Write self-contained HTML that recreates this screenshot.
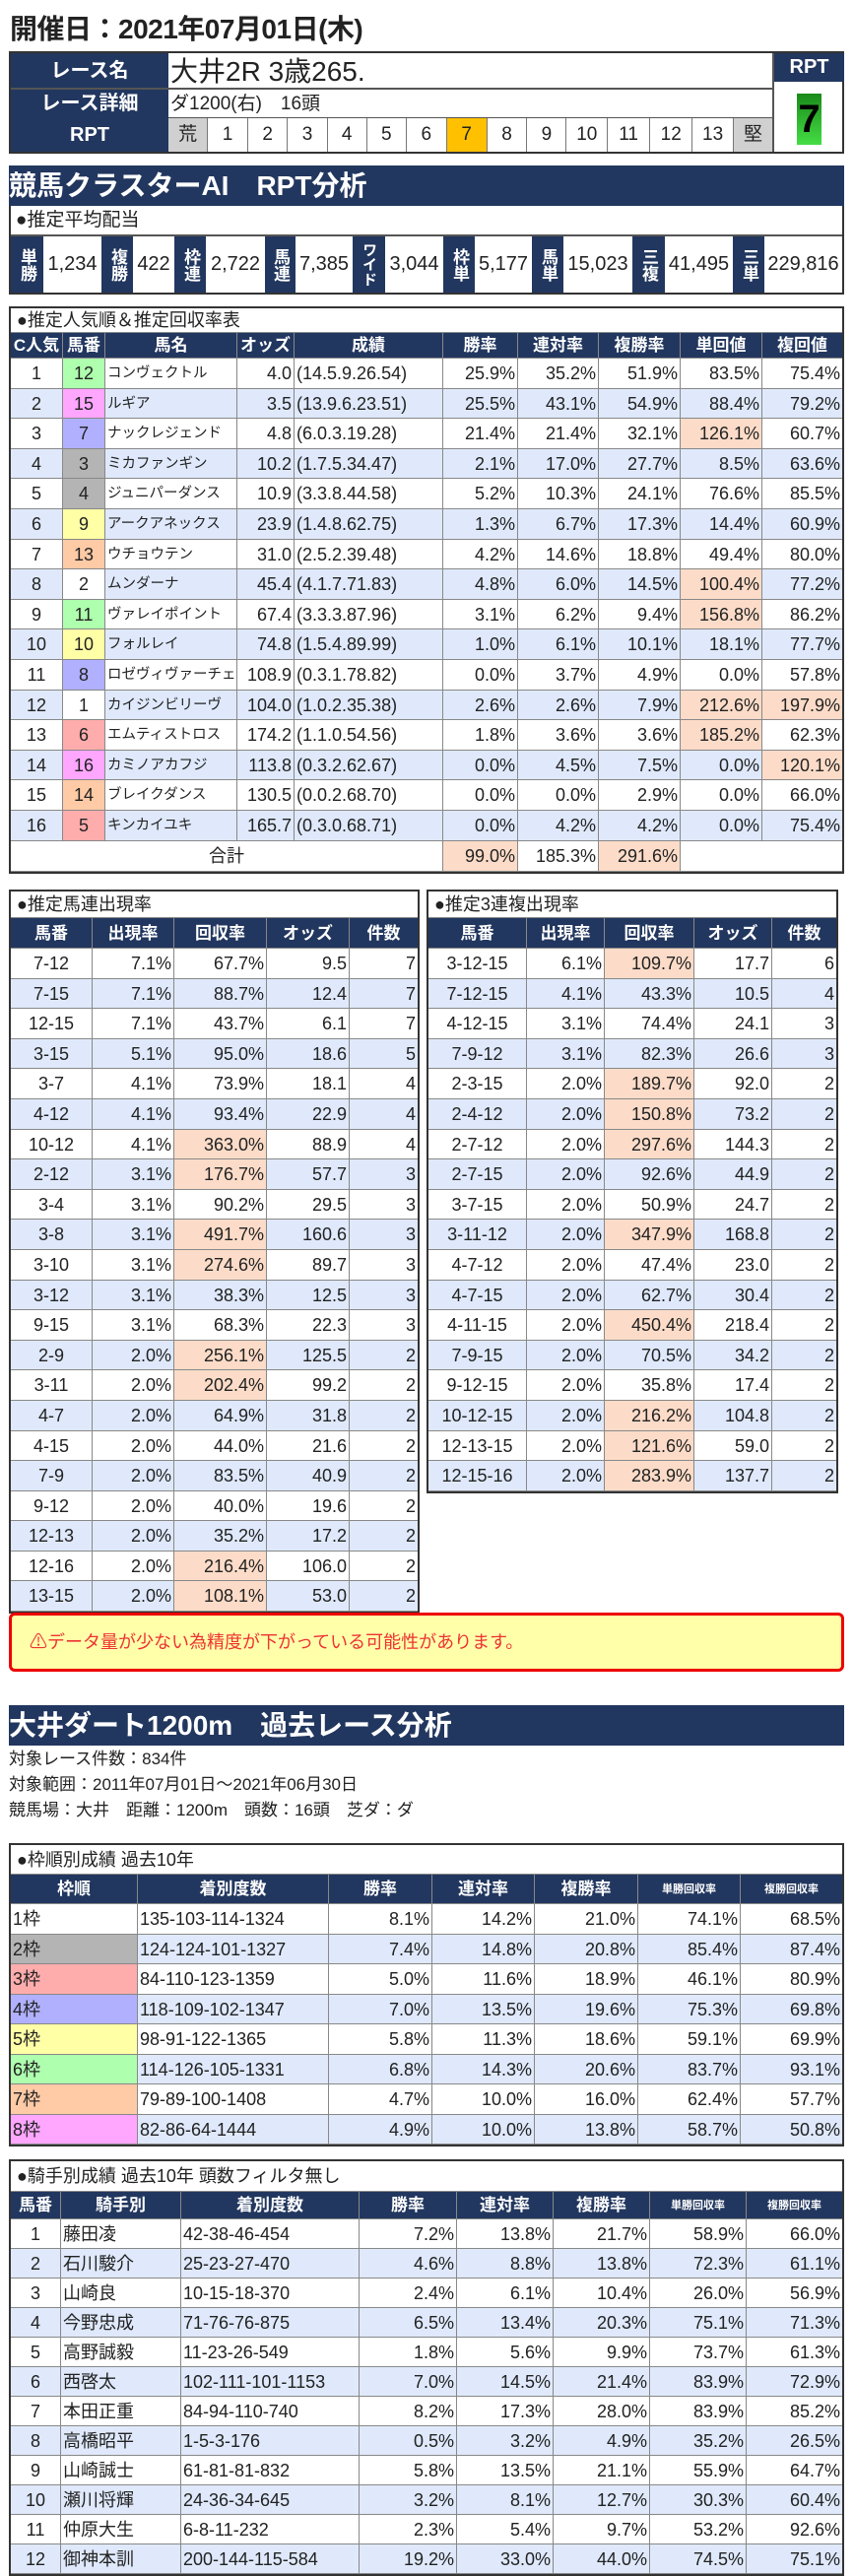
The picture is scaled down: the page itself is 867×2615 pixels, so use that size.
<!DOCTYPE html>
<html><head><meta charset="utf-8">
<style>
body{margin:0;width:867px;height:2606px;overflow:hidden;position:relative;background:#fff;font-family:"Liberation Sans","Noto Sans CJK JP",sans-serif;color:#222}
.a{position:absolute}
.nv{background:#22375f;color:#fff}
.tb{position:absolute;border:2px solid #333;background:#fff}
.r{display:flex}
.r>div{box-sizing:border-box;border-right:1px solid #888;border-bottom:1px solid #888;white-space:nowrap;overflow:hidden;padding:0 2px}
.r>div:last-child{border-right:none}
.h>div{background:#22375f;color:#fff;font-weight:bold;text-align:center}
.ti{border-bottom:1px solid #888;padding-left:6px;box-sizing:border-box;white-space:nowrap}
.b>div{background:#dfe9fb}
.r>div.s{background:#fcdcc8}
.R{text-align:right}.C{text-align:center}.L{text-align:left}
.r>div.f1{background:transparent}.r>div.f2{background:#b4b4b4}.r>div.f3{background:#ffacac}.r>div.f4{background:#b0b0ff}
.r>div.f5{background:#ffffa6}.r>div.f6{background:#aeffae}.r>div.f7{background:#ffcaa6}.r>div.f8{background:#ffa6ff}
.nm{font-size:14.5px}
</style></head><body>

<div class="a" style="left:10px;top:8px;font-size:28px;font-weight:bold;letter-spacing:-0.5px">開催日：2021年07月01日(木)</div>

<!-- header table -->
<div class="a" style="left:9px;top:52px;width:848px;height:104px;border:2px solid #333;box-sizing:border-box;background:#fff">
 <div class="a nv" style="left:0;top:0;width:160px;height:37px;line-height:37px;text-align:center;font-weight:bold;font-size:20px;border-bottom:2px solid #555;box-sizing:border-box">レース名</div>
 <div class="a nv" style="left:0;top:37px;width:160px;height:29px;line-height:29px;text-align:center;font-weight:bold;font-size:20px">レース詳細</div>
 <div class="a nv" style="left:0;top:66px;width:160px;height:34px;line-height:34px;text-align:center;font-weight:bold;font-size:20px">RPT</div>
 <div class="a" style="left:160px;top:0;width:613px;height:37px;line-height:37px;font-size:28px;border-bottom:2px solid #555;box-sizing:border-box;padding-left:2px">大井2R 3歳265.</div>
 <div class="a" style="left:160px;top:37px;width:613px;height:29px;line-height:29px;font-size:19px;border-bottom:1px solid #555;box-sizing:border-box;padding-left:2px">ダ1200(右)　16頭</div>
 <div class="a" style="left:160px;top:66px;width:613px;height:34px;display:flex;font-size:19px;line-height:34px;text-align:center">
  <div style="width:40px;background:#d0d0d0;border-right:1px solid #777">荒</div><div style="width:40.5px;border-right:1px solid #777">1</div><div style="width:40.5px;border-right:1px solid #777">2</div><div style="width:40px;border-right:1px solid #777">3</div><div style="width:40px;border-right:1px solid #777">4</div><div style="width:40px;border-right:1px solid #777">5</div><div style="width:40.5px;border-right:1px solid #777">6</div><div style="width:41px;border-right:1px solid #777;background:#ffc000">7</div><div style="width:40.5px;border-right:1px solid #777">8</div><div style="width:40px;border-right:1px solid #777">9</div><div style="width:41.5px;border-right:1px solid #777">10</div><div style="width:43px;border-right:1px solid #777">11</div><div style="width:43px;border-right:1px solid #777">12</div><div style="width:41.5px;border-right:1px solid #777">13</div><div style="width:40px;background:#d0d0d0">堅</div>
 </div>
 <div class="a nv" style="left:773px;top:0;width:71px;height:29px;line-height:29px;text-align:center;font-weight:bold;font-size:20px;border-left:2px solid #555">RPT</div>
 <div class="a" style="left:773px;top:29px;width:71px;height:71px;border-left:2px solid #555"></div>
 <div class="a" style="left:798px;top:41px;width:25px;height:52px;background:linear-gradient(#1a8a1a,#44dd44);font-size:40px;font-weight:bold;line-height:52px;text-align:center;color:#000">7</div>
</div>

<div class="a nv" style="left:9px;top:168px;width:848px;height:41px;line-height:41px;font-size:28px;font-weight:bold;white-space:pre">競馬クラスターAI　RPT分析</div>

<div class="a" style="left:9px;top:209px;width:848px;height:90px;border:2px solid #333;border-top:none;box-sizing:border-box">
 <div style="height:29px;line-height:29px;font-size:19px;padding-left:5px;border-bottom:2px solid #555">●推定平均配当</div>
 <div style="display:flex;height:57px;font-size:20px;line-height:57px">
  <div class="nv" style="width:33px;writing-mode:vertical-rl;font-weight:bold;font-size:17px;line-height:33px;text-align:center">単勝</div><div style="width:59px;text-align:center">1,234</div>
  <div class="nv" style="width:32px;writing-mode:vertical-rl;font-weight:bold;font-size:17px;line-height:32px;text-align:center">複勝</div><div style="width:42px;text-align:center">422</div>
  <div class="nv" style="width:32px;writing-mode:vertical-rl;font-weight:bold;font-size:17px;line-height:32px;text-align:center">枠連</div><div style="width:60px;text-align:center">2,722</div>
  <div class="nv" style="width:31px;writing-mode:vertical-rl;font-weight:bold;font-size:17px;line-height:31px;text-align:center">馬連</div><div style="width:58px;text-align:center">7,385</div>
  <div class="nv" style="width:33px;writing-mode:vertical-rl;font-weight:bold;font-size:15px;line-height:33px;text-align:center">ワイド</div><div style="width:59px;text-align:center">3,044</div>
  <div class="nv" style="width:32px;writing-mode:vertical-rl;font-weight:bold;font-size:17px;line-height:32px;text-align:center">枠単</div><div style="width:58px;text-align:center">5,177</div>
  <div class="nv" style="width:32px;writing-mode:vertical-rl;font-weight:bold;font-size:17px;line-height:32px;text-align:center">馬単</div><div style="width:70px;text-align:center">15,023</div>
  <div class="nv" style="width:33px;writing-mode:vertical-rl;font-weight:bold;font-size:17px;line-height:33px;text-align:center">三複</div><div style="width:69px;text-align:center">41,495</div>
  <div class="nv" style="width:32px;writing-mode:vertical-rl;font-weight:bold;font-size:17px;line-height:32px;text-align:center">三単</div><div style="width:79px;text-align:center">229,816</div>
 </div>
</div>

<!-- popularity table -->
<div class="tb" style="left:9px;top:311px;width:844px;font-size:18px">
 <div class="ti" style="height:25px;line-height:25px;font-size:18px">●推定人気順＆推定回収率表</div>
 <div class="r h" style="height:26px;line-height:26px;font-size:17px"><div style="width:53px">C人気</div><div style="width:43px">馬番</div><div style="width:134px">馬名</div><div style="width:58px">オッズ</div><div style="width:151px">成績</div><div style="width:76px">勝率</div><div style="width:82px">連対率</div><div style="width:83px">複勝率</div><div style="width:83px">単回値</div><div style="width:81px">複回値</div></div>
 <div id="pop"></div>
</div>

<!-- umaren -->
<div class="tb" style="left:9px;top:903px;width:413px;font-size:18px">
 <div class="ti" style="height:27px;line-height:27px">●推定馬連出現率</div>
 <div class="r h" style="height:31px;line-height:31px;font-size:17px"><div style="width:83px">馬番</div><div style="width:83px">出現率</div><div style="width:94px">回収率</div><div style="width:84px">オッズ</div><div style="width:69px">件数</div></div>
 <div id="ur"></div>
</div>
<div class="tb" style="left:433px;top:903px;width:414px;font-size:18px">
 <div class="ti" style="height:27px;line-height:27px">●推定3連複出現率</div>
 <div class="r h" style="height:31px;line-height:31px;font-size:17px"><div style="width:100px">馬番</div><div style="width:79px">出現率</div><div style="width:91px">回収率</div><div style="width:79px">オッズ</div><div style="width:65px">件数</div></div>
 <div id="tr"></div>
</div>

<div class="a" style="left:9px;top:1637px;width:848px;height:60px;box-sizing:border-box;border:3px solid #e00;border-radius:6px;background:#ffffaa;color:#e33;font-size:18px;line-height:54px;padding-left:18px">⚠データ量が少ない為精度が下がっている可能性があります。</div>

<div class="a nv" style="left:9px;top:1731px;width:848px;height:41px;line-height:41px;font-size:28px;font-weight:bold;white-space:pre">大井ダート1200m　過去レース分析</div>
<div class="a" style="left:9px;top:1773px;font-size:17px;line-height:26px;white-space:pre">対象レース件数：834件
対象範囲：2011年07月01日～2021年06月30日
競馬場：大井　距離：1200m　頭数：16頭　芝ダ：ダ</div>

<div class="tb" style="left:9px;top:1871px;width:844px;font-size:18px">
 <div class="ti" style="height:30px;line-height:30px">●枠順別成績 過去10年</div>
 <div class="r h" style="height:30px;line-height:30px;font-size:17px"><div style="width:129px">枠順</div><div style="width:194px">着別度数</div><div style="width:105px">勝率</div><div style="width:104px">連対率</div><div style="width:105px">複勝率</div><div style="width:104px;font-size:11px">単勝回収率</div><div style="width:103px;font-size:11px">複勝回収率</div></div>
 <div id="wk"></div>
</div>

<div class="tb" style="left:9px;top:2192px;width:844px;font-size:18px">
 <div class="ti" style="height:31px;line-height:31px">●騎手別成績 過去10年 頭数フィルタ無し</div>
 <div class="r h" style="height:28px;line-height:28px;font-size:17px"><div style="width:51px">馬番</div><div style="width:122px">騎手別</div><div style="width:181px">着別度数</div><div style="width:99px">勝率</div><div style="width:98px">連対率</div><div style="width:98px">複勝率</div><div style="width:98px;font-size:11px">単勝回収率</div><div style="width:97px;font-size:11px">複勝回収率</div></div>
 <div id="jk"></div>
</div>

<script>
function fr(n){return 'f'+Math.ceil(n/2);}
function cell(w,t,cls){var s='',v=t;if(typeof t==='string'&&t.slice(-1)==='*'){s=' s';v=t.slice(0,-1);}return '<div class="'+cls+s+'" style="width:'+w+'px">'+v+'</div>';}
function rows(id,data,ws,al,h,extra){var o='';data.forEach(function(d,i){o+='<div class="r'+(i%2?' b':'')+'" style="height:'+h+'px;line-height:'+h+'px">';d.forEach(function(v,j){var c=al[j];if(extra)c+=extra(d,j);o+=cell(ws[j],v,c);});o+='</div>';});document.getElementById(id).innerHTML=o;}
var pop=[[1,12,'コンヴェクトル','4.0','(14.5.9.26.54)','25.9%','35.2%','51.9%','83.5%','75.4%'],
[2,15,'ルギア','3.5','(13.9.6.23.51)','25.5%','43.1%','54.9%','88.4%','79.2%'],
[3,7,'ナックレジェンド','4.8','(6.0.3.19.28)','21.4%','21.4%','32.1%','126.1%*','60.7%'],
[4,3,'ミカファンギン','10.2','(1.7.5.34.47)','2.1%','17.0%','27.7%','8.5%','63.6%'],
[5,4,'ジュニパーダンス','10.9','(3.3.8.44.58)','5.2%','10.3%','24.1%','76.6%','85.5%'],
[6,9,'アークアネックス','23.9','(1.4.8.62.75)','1.3%','6.7%','17.3%','14.4%','60.9%'],
[7,13,'ウチョウテン','31.0','(2.5.2.39.48)','4.2%','14.6%','18.8%','49.4%','80.0%'],
[8,2,'ムンダーナ','45.4','(4.1.7.71.83)','4.8%','6.0%','14.5%','100.4%*','77.2%'],
[9,11,'ヴァレイポイント','67.4','(3.3.3.87.96)','3.1%','6.2%','9.4%','156.8%*','86.2%'],
[10,10,'フォルレイ','74.8','(1.5.4.89.99)','1.0%','6.1%','10.1%','18.1%','77.7%'],
[11,8,'ロゼヴィヴァーチェ','108.9','(0.3.1.78.82)','0.0%','3.7%','4.9%','0.0%','57.8%'],
[12,1,'カイジンビリーヴ','104.0','(1.0.2.35.38)','2.6%','2.6%','7.9%','212.6%*','197.9%*'],
[13,6,'エムティストロス','174.2','(1.1.0.54.56)','1.8%','3.6%','3.6%','185.2%*','62.3%'],
[14,16,'カミノアカフジ','113.8','(0.3.2.62.67)','0.0%','4.5%','7.5%','0.0%','120.1%*'],
[15,14,'ブレイクダンス','130.5','(0.0.2.68.70)','0.0%','0.0%','2.9%','0.0%','66.0%'],
[16,5,'キンカイユキ','165.7','(0.3.0.68.71)','0.0%','4.2%','4.2%','0.0%','75.4%']];
rows('pop',pop,[53,43,134,58,151,76,82,83,83,81],['C','C','L nm','R','L','R','R','R','R','R'],30.6,function(d,j){return j==1?' '+fr(d[1]):'';});
document.getElementById('pop').innerHTML+='<div class="r" style="height:31px;line-height:31px"><div class="C" style="width:439px">合計</div><div class="R s" style="width:76px">99.0%</div><div class="R" style="width:82px">185.3%</div><div class="R s" style="width:83px">291.6%</div><div style="width:164px"></div></div>';
var ur=[['7-12','7.1%','67.7%','9.5',7],['7-15','7.1%','88.7%','12.4',7],['12-15','7.1%','43.7%','6.1',7],['3-15','5.1%','95.0%','18.6',5],['3-7','4.1%','73.9%','18.1',4],['4-12','4.1%','93.4%','22.9',4],['10-12','4.1%','363.0%*','88.9',4],['2-12','3.1%','176.7%*','57.7',3],['3-4','3.1%','90.2%','29.5',3],['3-8','3.1%','491.7%*','160.6',3],['3-10','3.1%','274.6%*','89.7',3],['3-12','3.1%','38.3%','12.5',3],['9-15','3.1%','68.3%','22.3',3],['2-9','2.0%','256.1%*','125.5',2],['3-11','2.0%','202.4%*','99.2',2],['4-7','2.0%','64.9%','31.8',2],['4-15','2.0%','44.0%','21.6',2],['7-9','2.0%','83.5%','40.9',2],['9-12','2.0%','40.0%','19.6',2],['12-13','2.0%','35.2%','17.2',2],['12-16','2.0%','216.4%*','106.0',2],['13-15','2.0%','108.1%*','53.0',2]];
rows('ur',ur,[83,83,94,84,69],['C','R','R','R','R'],30.6);
var tr=[['3-12-15','6.1%','109.7%*','17.7',6],['7-12-15','4.1%','43.3%','10.5',4],['4-12-15','3.1%','74.4%','24.1',3],['7-9-12','3.1%','82.3%','26.6',3],['2-3-15','2.0%','189.7%*','92.0',2],['2-4-12','2.0%','150.8%*','73.2',2],['2-7-12','2.0%','297.6%*','144.3',2],['2-7-15','2.0%','92.6%','44.9',2],['3-7-15','2.0%','50.9%','24.7',2],['3-11-12','2.0%','347.9%*','168.8',2],['4-7-12','2.0%','47.4%','23.0',2],['4-7-15','2.0%','62.7%','30.4',2],['4-11-15','2.0%','450.4%*','218.4',2],['7-9-15','2.0%','70.5%','34.2',2],['9-12-15','2.0%','35.8%','17.4',2],['10-12-15','2.0%','216.2%*','104.8',2],['12-13-15','2.0%','121.6%*','59.0',2],['12-15-16','2.0%','283.9%*','137.7',2]];
rows('tr',tr,[100,79,91,79,65],['C','R','R','R','R'],30.6);
var wk=[['1枠','135-103-114-1324','8.1%','14.2%','21.0%','74.1%','68.5%'],['2枠','124-124-101-1327','7.4%','14.8%','20.8%','85.4%','87.4%'],['3枠','84-110-123-1359','5.0%','11.6%','18.9%','46.1%','80.9%'],['4枠','118-109-102-1347','7.0%','13.5%','19.6%','75.3%','69.8%'],['5枠','98-91-122-1365','5.8%','11.3%','18.6%','59.1%','69.9%'],['6枠','114-126-105-1331','6.8%','14.3%','20.6%','83.7%','93.1%'],['7枠','79-89-100-1408','4.7%','10.0%','16.0%','62.4%','57.7%'],['8枠','82-86-64-1444','4.9%','10.0%','13.8%','58.7%','50.8%']];
rows('wk',wk,[129,194,105,104,105,104,103],['L','L','R','R','R','R','R'],30.5,function(d,j){return j==0?' f'+d[0].charAt(0):'';});
var jk=[[1,'藤田凌','42-38-46-454','7.2%','13.8%','21.7%','58.9%','66.0%'],[2,'石川駿介','25-23-27-470','4.6%','8.8%','13.8%','72.3%','61.1%'],[3,'山崎良','10-15-18-370','2.4%','6.1%','10.4%','26.0%','56.9%'],[4,'今野忠成','71-76-76-875','6.5%','13.4%','20.3%','75.1%','71.3%'],[5,'高野誠毅','11-23-26-549','1.8%','5.6%','9.9%','73.7%','61.3%'],[6,'西啓太','102-111-101-1153','7.0%','14.5%','21.4%','83.9%','72.9%'],[7,'本田正重','84-94-110-740','8.2%','17.3%','28.0%','83.9%','85.2%'],[8,'高橋昭平','1-5-3-176','0.5%','3.2%','4.9%','35.2%','26.5%'],[9,'山崎誠士','61-81-81-832','5.8%','13.5%','21.1%','55.9%','64.7%'],[10,'瀬川将輝','24-36-34-645','3.2%','8.1%','12.7%','30.3%','60.4%'],[11,'仲原大生','6-8-11-232','2.3%','5.4%','9.7%','53.2%','92.6%'],[12,'御神本訓','200-144-115-584','19.2%','33.0%','44.0%','74.5%','75.1%']];
rows('jk',jk,[51,122,181,99,98,98,98,97],['C','L','L','R','R','R','R','R'],30);
</script>
</body></html>
